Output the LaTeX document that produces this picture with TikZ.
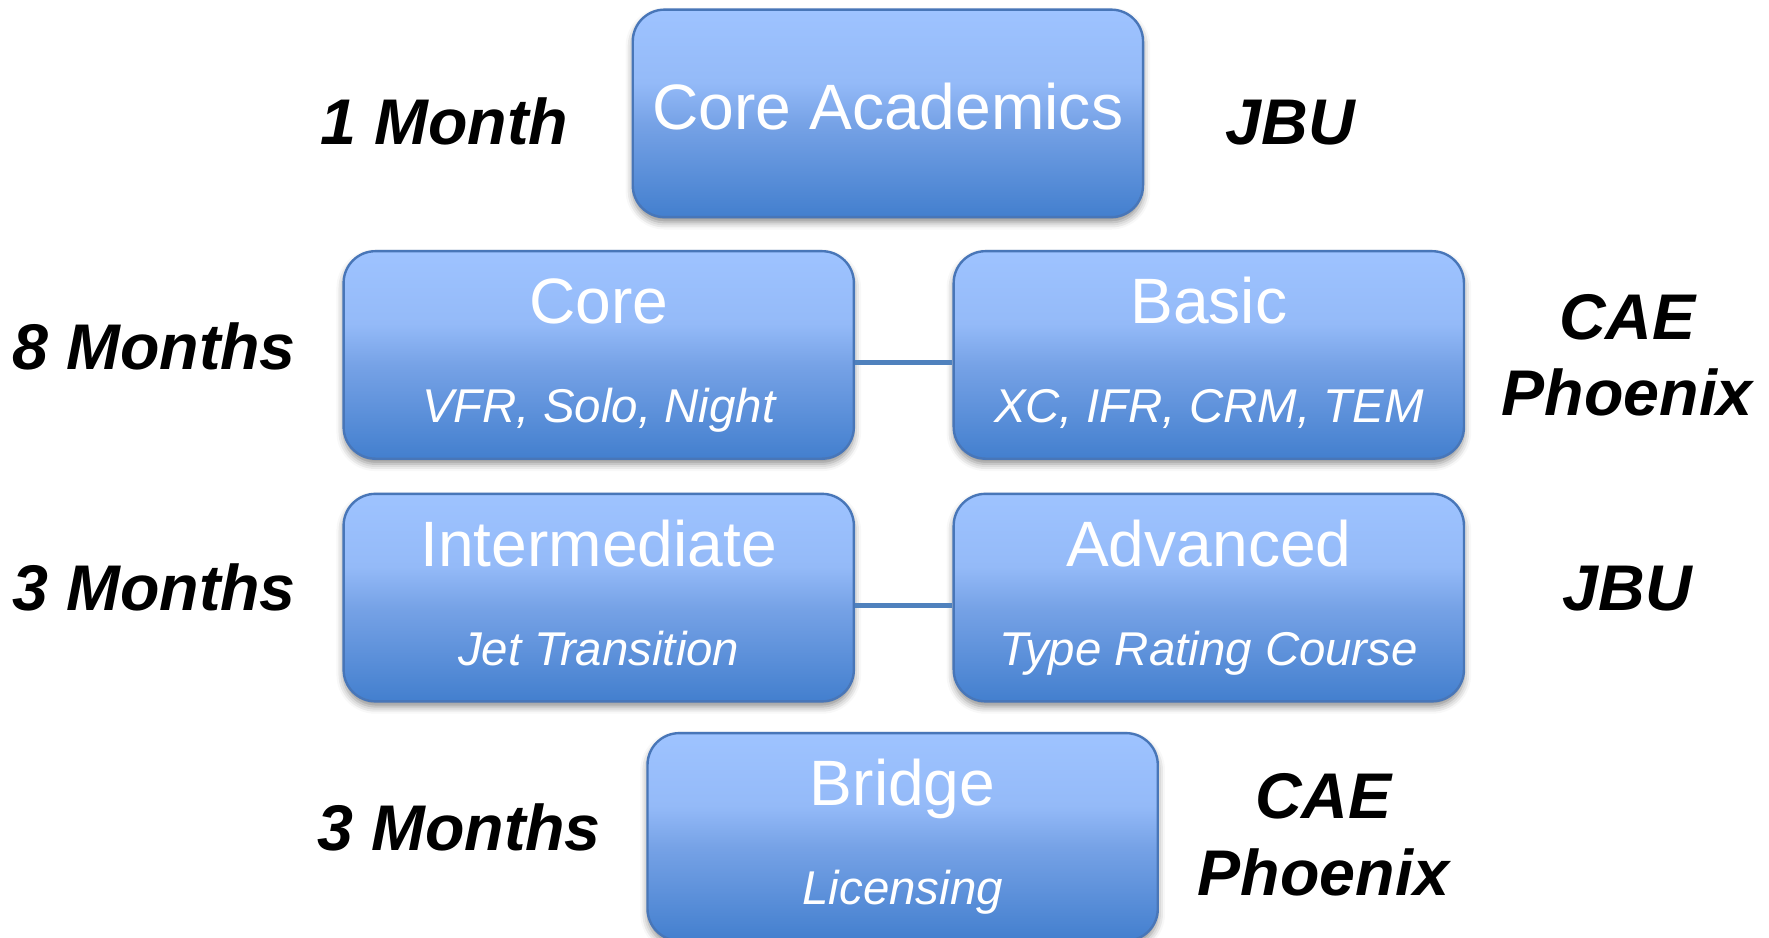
\documentclass[tikz,border=0pt]{standalone}
\usepackage{fontspec}
\setmainfont{Liberation Sans}
\usetikzlibrary{shadows.blur,calc}
\definecolor{btop}{RGB}{158,195,255}
\definecolor{bhi}{RGB}{148,186,248}
\definecolor{bmid}{RGB}{118,162,230}
\definecolor{bbot}{RGB}{67,127,206}
\definecolor{bedge}{RGB}{72,118,184}
\definecolor{linkc}{RGB}{79,129,189}
\pgfdeclareverticalshading{boxshade}{100bp}{color(0bp)=(bbot); color(25bp)=(bbot); color(47.5bp)=(bmid); color(57.5bp)=(bhi); color(75bp)=(btop); color(100bp)=(btop)}
\begin{document}
\begin{tikzpicture}[x=0.1mm,y=-0.1mm,
  stage/.style={rectangle, rounded corners=2.8mm, minimum width=45.0mm, minimum height=18.3mm,
    shading=boxshade, draw=bedge, line width=0.6pt, inner sep=0pt,
    blur shadow={shadow xshift=0pt, shadow yshift=-1.3pt, shadow blur radius=1.8pt, shadow opacity=45}},
  ttl/.style={text=white, font=\fontsize{16.1}{19}\selectfont, anchor=base, inner sep=0pt},
  sub/.style={text=white, font=\fontsize{11.9}{14}\selectfont\itshape, anchor=base, inner sep=0pt},
  side/.style={text=black, font=\fontsize{16.2}{19}\selectfont\bfseries\itshape, anchor=base, inner sep=0pt},
  link/.style={draw=linkc, line width=1.3pt}]
\path[use as bounding box] (0,0) rectangle (1560,826.3);
\node[stage] (ca) at (783,100) {};
\node[stage] (core) at (528,313) {};
\node[stage] (basic) at (1066,313) {};
\node[stage] (inter) at (528,527) {};
\node[stage] (adv) at (1066,527) {};
\node[stage] (bridge) at (796,738) {};
\draw[link] ($(core.east)+(0,7)$) -- ($(basic.west)+(0,7)$);
\draw[link] ($(inter.east)+(0,7)$) -- ($(adv.west)+(0,7)$);
\node[ttl] (cat) at ($(ca.center)+(0,14)$) {Core Academics};
\node[ttl] (coret) at ($(core.center)+(0,-27.5)$) {Core};
\node[sub] (cores) at ($(core.center)+(0,60)$) {VFR, Solo, Night};
\node[ttl] (basict) at ($(basic.center)+(0,-27.5)$) {Basic};
\node[sub] (basics) at ($(basic.center)+(0,60)$) {XC, IFR, CRM, TEM};
\node[ttl] (intert) at ($(inter.center)+(0,-27.5)$) {Intermediate};
\node[sub] (inters) at ($(inter.center)+(0,60)$) {Jet Transition};
\node[ttl] (advt) at ($(adv.center)+(0,-27.5)$) {Advanced};
\node[sub] (advs) at ($(adv.center)+(0,60)$) {Type Rating Course};
\node[ttl] (bridget) at ($(bridge.center)+(0,-27.5)$) {Bridge};
\node[sub] (bridges) at ($(bridge.center)+(0,60)$) {Licensing};
\node[side] (m1) at (392,127) {1 Month};
\node[side] (o1) at (1138,127) {JBU};
\node[side] (m2) at (136,326) {8 Months};
\node[side] (o2a) at (1435,299) {CAE};
\node[side] (o2b) at (1435,366) {Phoenix};
\node[side] (m3) at (136,538) {3 Months};
\node[side] (o3) at (1435,538) {JBU};
\node[side] (m4) at (405,750) {3 Months};
\node[side] (o4a) at (1167,722) {CAE};
\node[side] (o4b) at (1167,790) {Phoenix};
\end{tikzpicture}
\end{document}
